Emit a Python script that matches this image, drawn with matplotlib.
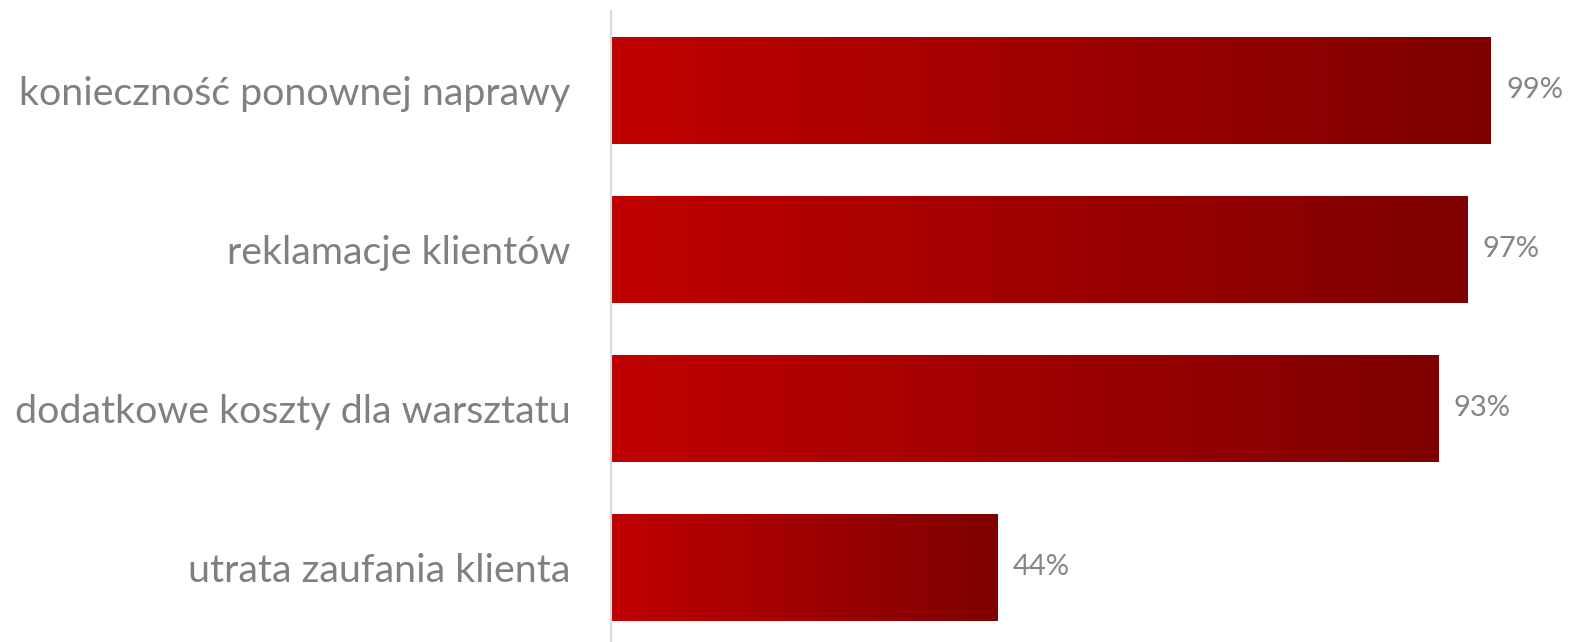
import matplotlib.pyplot as plt
import numpy as np
from matplotlib.colors import LinearSegmentedColormap

categories = ['konieczność ponownej naprawy', 'reklamacje klientów',
              'dodatkowe koszty dla warsztatu', 'utrata zaufania klienta']
values = [99, 96.4, 93.1, 43.5]
value_labels = ['99%', '97%', '93%', '44%']

plt.rcParams['font.family'] = ['Lato', 'DejaVu Sans']

fig = plt.figure(figsize=(15.69, 6.42), dpi=100)
ax = fig.add_axes([611 / 1569, 0, 1 - 611 / 1569, 1 - 11 / 642])

cmap = LinearSegmentedColormap.from_list('red_grad', ['#C00000', '#7F0000'])
grad = np.linspace(0, 1, 256).reshape(1, -1)
bar_h = 0.67

ypos = np.arange(len(categories))
bars = ax.barh(ypos, values, height=bar_h, color='none', edgecolor='none')
for bar in bars:
    x0, y0 = bar.get_x(), bar.get_y()
    w, h = bar.get_width(), bar.get_height()
    im = ax.imshow(grad, cmap=cmap, aspect='auto', interpolation='bicubic',
                   extent=[x0, x0 + w, y0 + h, y0], zorder=2)
    im.set_clip_path(bar)

for y, v, lab in zip(ypos, values, value_labels):
    ax.annotate(lab, xy=(v, y), xytext=(11, 0), textcoords='offset points',
                va='center', ha='left', fontsize=21, color='#858585')

ax.set_xlim(0, 107.8)
ax.set_ylim(len(categories) - 0.53, -0.5)
ax.set_yticks(ypos)
ax.set_yticklabels(categories, fontsize=28.4, color='#808080')
ax.tick_params(axis='y', length=0, pad=29)
ax.set_xticks([])

for side in ['top', 'right', 'bottom']:
    ax.spines[side].set_visible(False)
ax.spines['left'].set_color('#D9D9D9')
ax.spines['left'].set_linewidth(1.5)

fig.savefig('out.png', dpi=100)
